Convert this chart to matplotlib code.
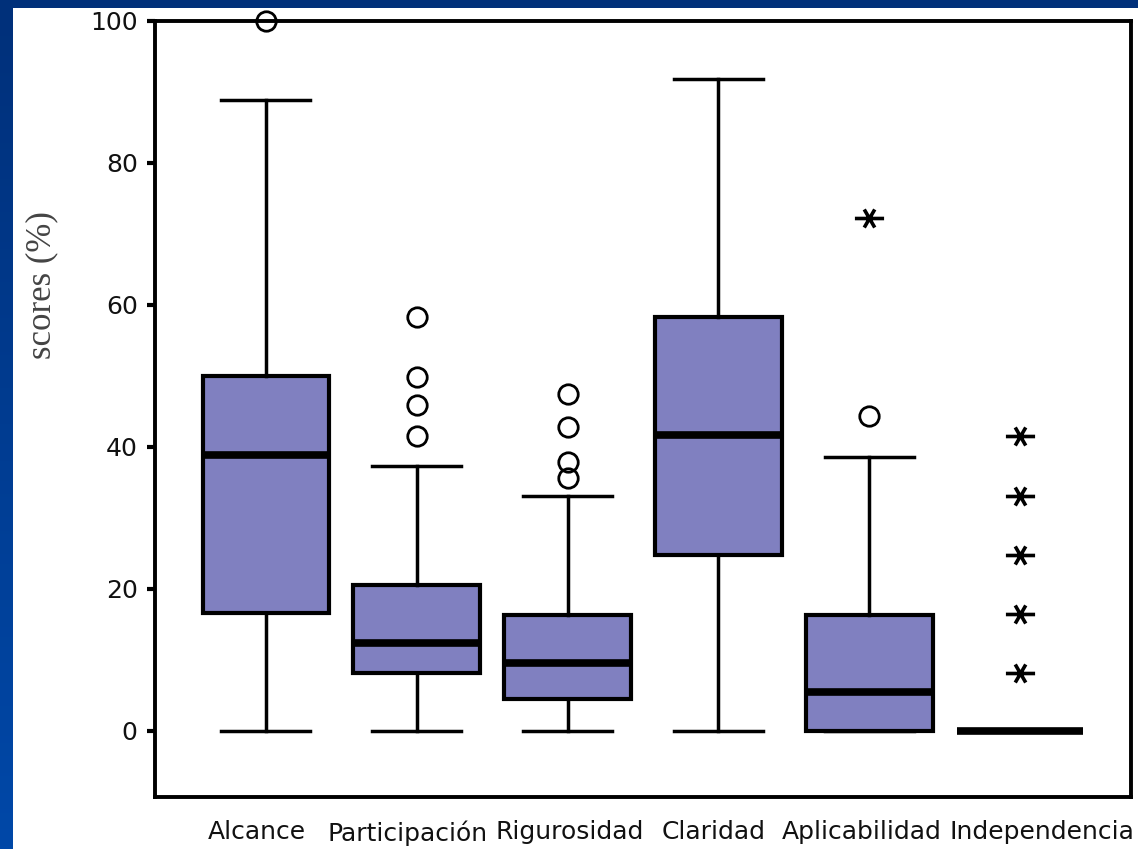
import numpy as np
import matplotlib
matplotlib.use("Agg")
import matplotlib.pyplot as plt
from matplotlib.path import Path
from matplotlib.patches import Rectangle
from matplotlib.transforms import ScaledTranslation
from matplotlib.colors import LinearSegmentedColormap

# ---- data ----
categories = ["Alcance", "Participación", "Rigurosidad", "Claridad", "Aplicabilidad", "Independencia"]
whis_lo = [0, 0, 0, 0, 0, 0]
q1      = [16.6, 8.2, 4.5, 24.8, 0, 0]
median  = [38.9, 12.4, 9.6, 41.7, 5.5, 0]
q3      = [50.0, 20.6, 16.4, 58.3, 16.4, 0]
whis_hi = [88.9, 37.3, 33.1, 91.8, 38.6, 0]
circle_outliers = [[100], [58.3, 49.9, 45.9, 41.5], [47.5, 42.8, 37.9, 35.6], [], [44.4], []]
star_outliers   = [[], [], [], [], [72.3], [41.5, 33.1, 24.8, 16.5, 8.2]]
yticks = [0, 20, 40, 60, 80, 100]

fill_color = "#8080C0"

fig = plt.figure(figsize=(11.38, 8.49), dpi=100)
# slide background gradient
bg = fig.add_axes([0, 0, 1, 1], zorder=-10)
grad = np.linspace(0, 1, 256).reshape(-1, 1)
cmap = LinearSegmentedColormap.from_list("bg", ["#00307A", "#0048A8"])
bg.imshow(grad, aspect="auto", cmap=cmap, extent=[0, 1, 0, 1])
bg.add_patch(Rectangle((13 / 1138, 0), 1, 1 - 8 / 849, facecolor="white", edgecolor="none",
                       transform=bg.transAxes))
bg.set_axis_off()

ax = fig.add_axes([155 / 1138, 1 - 797 / 849, (1131 - 155) / 1138, (797 - 21) / 849])

stats = []
for i, name in enumerate(categories):
    stats.append(dict(label=name, whislo=whis_lo[i], q1=q1[i], med=median[i],
                      q3=q3[i], whishi=whis_hi[i], fliers=[]))

pos = np.arange(1, len(categories) + 1)
ax.bxp(stats, positions=pos, widths=0.84, capwidths=0.59, patch_artist=True, showfliers=False,
       boxprops=dict(facecolor=fill_color, edgecolor="black", linewidth=3),
       medianprops=dict(color="black", linewidth=5.5, solid_capstyle="butt"),
       whiskerprops=dict(color="black", linewidth=2.5),
       capprops=dict(color="black", linewidth=2.5))

# outliers
for i, vals in enumerate(circle_outliers):
    if vals:
        ax.plot([pos[i]] * len(vals), vals, linestyle="none", marker="o", markersize=14,
                markerfacecolor="none", markeredgecolor="black", markeredgewidth=2.0,
                clip_on=False, zorder=5)

star_path = Path(
    [(-1.0, 0), (1.0, 0),
     (-0.36, -0.62), (0.36, 0.62),
     (-0.36, 0.62), (0.36, -0.62)],
    [Path.MOVETO, Path.LINETO, Path.MOVETO, Path.LINETO, Path.MOVETO, Path.LINETO])
for i, vals in enumerate(star_outliers):
    if vals:
        ax.plot([pos[i]] * len(vals), vals, linestyle="none", marker=star_path, markersize=21,
                markerfacecolor="none", markeredgecolor="black", markeredgewidth=2.6,
                clip_on=False, zorder=5)

ax.set_xlim(0.265, 6.735)
ax.set_ylim(-9.3, 100)
ax.set_yticks(yticks)
ax.set_yticklabels([str(t) for t in yticks], fontsize=18, family="DejaVu Sans", color="#111111")
ax.set_xticks(pos)
ax.set_xticklabels([])
ax.tick_params(axis="y", length=5.5, width=3, pad=7, direction="out")
ax.tick_params(axis="x", length=0)

# category labels, slightly shifted as in the reference layout
label_shift_px = [-9, -9, 2, -5, -8, 22]
for i, name in enumerate(categories):
    tr = ax.get_xaxis_transform() + ScaledTranslation(label_shift_px[i] / 100, -23 / 100,
                                                      fig.dpi_scale_trans)
    ax.text(pos[i], 0, name, transform=tr, ha="center", va="top", fontsize=18,
            family="DejaVu Sans", color="#111111", clip_on=False)

for s in ax.spines.values():
    s.set_linewidth(2.8)
    s.set_color("black")

fig.text(42 / 1138, 1 - 285 / 849, "scores (%)", rotation=90, ha="center", va="center",
         fontsize=25, family="Liberation Serif", color="#444444")

fig.savefig("out.png", dpi=100)
